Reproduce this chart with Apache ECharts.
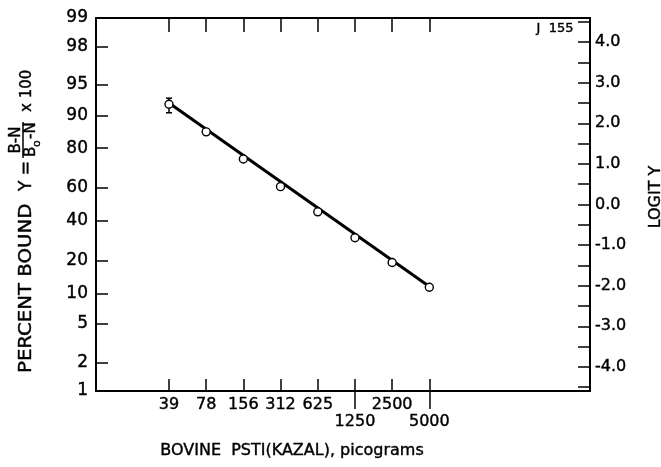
<!DOCTYPE html>
<html>
<head>
<meta charset="utf-8">
<script src="https://cdn.jsdelivr.net/npm/echarts@6/dist/echarts.min.js"></script>
<style>
  html, body { margin: 0; padding: 0; background: #fff; }
  #chart { width: 661px; height: 467px; }
</style>
</head>
<body>
<div id="chart"></div>
<script>
// dose of bovine PSTI, picograms (log axis)
var doses = [39, 78, 156, 312, 625, 1250, 2500, 5000];
// logit Y read for each dose
var logitY = [2.47, 1.79, 1.12, 0.44, -0.18, -0.82, -1.43, -2.04];
// error bar on the first point
var errDose = [39];
var errLow = [2.26];
var errHigh = [2.62];
// fitted line ends
var fitDose = [39, 5000];
var fitLogit = [2.50, -2.02];
// left axis, percent bound
var percentTicks = [1, 2, 5, 10, 20, 40, 60, 80, 90, 95, 98, 99];
// right axis, logit Y
var logitLabels = [-4, -3, -2, -1, 0, 1, 2, 3, 4];
var logitTicks = [-4.5, -4, -3.5, -3, -2.5, -2, -1.5, -1, -0.5, 0, 0.5, 1, 1.5, 2, 2.5, 3, 3.5, 4, 4.5];
// dose labels on the first and second row
var topRowDoses = [39, 78, 156, 312, 625, 2500];
var lowRowDoses = [1250, 5000];

var FONT = 'DejaVu Sans';
var INK = '#000';
var yMax = Math.log(99);

var percentPos = percentTicks.map(function (p) {
  return Math.max(-yMax, Math.min(yMax, Math.log(p / (100 - p))));
});

function percentLabel (v) {
  var best = 0;
  for (var i = 1; i < percentPos.length; i++) {
    if (Math.abs(percentPos[i] - v) < Math.abs(percentPos[best] - v)) best = i;
  }
  return String(percentTicks[best]);
}

function doseLabel (v) {
  return String(Math.round(v));
}

// slightly heavier text, like the typeset original
function txt (text, x, y, size, align, extra) {
  return Object.assign({
    type: 'text', x: x, y: y,
    style: {text: text, font: size + 'px "' + FONT + '"', fill: INK, stroke: INK, lineWidth: 0.4, align: align, verticalAlign: 'middle'}
  }, extra || {});
}

var myChart = echarts.init(document.getElementById('chart'), null, {renderer: 'canvas'});

var axisLine = {show: true, onZero: false, lineStyle: {color: INK, width: 2}};
var tickStyle = {color: INK, width: 1.5};
var labelBase = {color: INK, fontFamily: FONT, fontSize: 16, hideOverlap: false, textBorderColor: INK, textBorderWidth: 0.4};

var option = {
  animation: false,
  backgroundColor: '#fff',
  grid: {left: 96, top: 18, right: 71, bottom: 76, outerBoundsMode: 'none'},
  xAxis: [
    {
      type: 'log', logBase: 10, min: 10, max: 100000, position: 'bottom',
      axisLine: axisLine,
      axisTick: {show: true, inside: true, length: 12, customValues: doses, lineStyle: tickStyle},
      minorTick: {show: false},
      splitLine: {show: false},
      axisLabel: Object.assign({customValues: topRowDoses, margin: 6, formatter: doseLabel}, labelBase)
    },
    {
      type: 'log', logBase: 10, min: 10, max: 100000, position: 'bottom',
      axisLine: {show: false, onZero: false},
      axisTick: {show: true, inside: false, length: 18, customValues: lowRowDoses, lineStyle: tickStyle},
      splitLine: {show: false},
      axisLabel: Object.assign({customValues: lowRowDoses, margin: 23, formatter: doseLabel}, labelBase)
    },
    {
      type: 'log', logBase: 10, min: 10, max: 100000, position: 'top',
      axisLine: axisLine,
      axisTick: {show: true, inside: true, length: 14, customValues: doses, lineStyle: tickStyle},
      axisLabel: {show: false},
      splitLine: {show: false}
    }
  ],
  yAxis: [
    {
      type: 'value', min: -yMax, max: yMax, position: 'left',
      axisLine: axisLine,
      axisTick: {show: true, inside: true, length: 12, customValues: percentPos, lineStyle: tickStyle},
      splitLine: {show: false},
      axisLabel: Object.assign({customValues: percentPos, margin: 8, formatter: percentLabel}, labelBase, {fontSize: 17})
    },
    {
      type: 'value', min: -yMax, max: yMax, position: 'right',
      axisLine: axisLine,
      axisTick: {show: true, inside: true, length: 12, customValues: logitTicks, lineStyle: tickStyle},
      splitLine: {show: false},
      axisLabel: Object.assign({
        customValues: logitLabels, margin: 5,
        formatter: function (v) { return v.toFixed(1); }
      }, labelBase)
    }
  ],
  graphic: [
    {
      type: 'group', x: 27, y: 373, rotation: Math.PI / 2,
      children: [
        txt('PERCENT BOUND', 0, 0, 17, 'left', {scaleX: 1.16}),
        txt('Y =', 182, 0, 17, 'left'),
        txt('B-N', 233, -11, 15, 'center'),
        {type: 'line', shape: {x1: 215, y1: -4, x2: 251, y2: -4}, style: {stroke: INK, lineWidth: 1.5}},
        txt('B', 216, 4, 15, 'left'),
        txt('o', 226, 10, 11, 'left'),
        txt('-N', 234, 4, 15, 'left'),
        txt('x 100', 261, 0, 15, 'left')
      ]
    },
    txt('LOGIT Y', 656, 197, 16, 'center', {rotation: Math.PI / 2}),
    txt('BOVINE  PSTI(KAZAL), picograms', 292, 451, 16, 'center'),
    txt('J  155', 555, 29, 13, 'center')
  ],
  series: [
    {
      name: 'fit',
      type: 'line',
      xAxisIndex: 0, yAxisIndex: 1,
      data: fitDose.map(function (d, i) { return [d, fitLogit[i]]; }),
      symbol: 'none',
      lineStyle: {color: INK, width: 3},
      z: 2
    },
    {
      name: 'error',
      type: 'custom',
      xAxisIndex: 0, yAxisIndex: 1,
      encode: {x: 0, y: [1, 2]},
      data: errDose.map(function (d, i) { return [d, errLow[i], errHigh[i]]; }),
      renderItem: function (params, api) {
        var lo = api.coord([api.value(0), api.value(1)]);
        var hi = api.coord([api.value(0), api.value(2)]);
        var w = 3;
        var st = {stroke: INK, lineWidth: 1.5};
        return {
          type: 'group',
          children: [
            {type: 'line', shape: {x1: lo[0], y1: lo[1], x2: hi[0], y2: hi[1]}, style: st},
            {type: 'line', shape: {x1: lo[0] - w, y1: lo[1], x2: lo[0] + w, y2: lo[1]}, style: st},
            {type: 'line', shape: {x1: hi[0] - w, y1: hi[1], x2: hi[0] + w, y2: hi[1]}, style: st}
          ]
        };
      },
      z: 3
    },
    {
      name: 'points',
      type: 'scatter',
      xAxisIndex: 0, yAxisIndex: 1,
      data: doses.map(function (d, i) { return [d, logitY[i]]; }),
      symbol: 'circle',
      symbolSize: 8,
      itemStyle: {color: '#fff', borderColor: INK, borderWidth: 1.4, opacity: 1},
      z: 4
    }
  ]
};

myChart.setOption(option);
</script>
</body>
</html>
